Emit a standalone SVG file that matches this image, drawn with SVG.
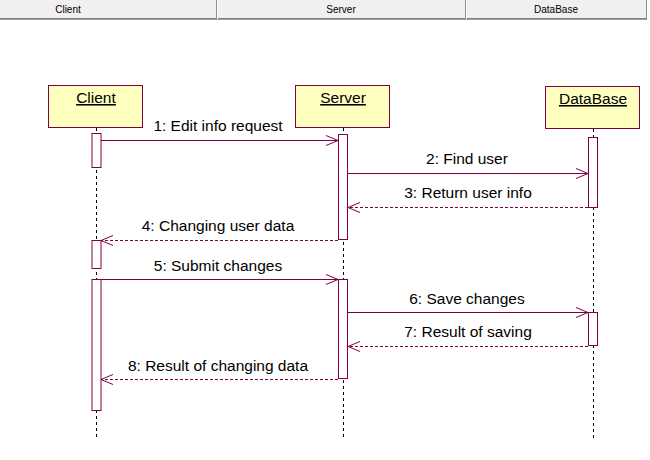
<svg xmlns="http://www.w3.org/2000/svg" width="650" height="460" viewBox="0 0 650 460">
<style>
.hdr{fill:#f0f0f0}
.hdrtxt{font-family:"Liberation Sans",Arial,sans-serif;font-size:10px;fill:#000;text-anchor:middle}
.box{fill:#ffffc0;stroke:#800040;stroke-width:1}
.title{font-family:"Liberation Sans",Arial,sans-serif;font-size:15.5px;fill:#000;text-anchor:middle;text-decoration:underline}
.act{fill:#fff;stroke:#800040;stroke-width:1}
.life{stroke:#000;stroke-width:1;stroke-dasharray:3 3;fill:none}
.msg{stroke:#800040;stroke-width:1;fill:none}
.ret{stroke:#800040;stroke-width:1;fill:none;stroke-dasharray:3 2}
.lbl{font-family:"Liberation Sans",Arial,sans-serif;font-size:15.5px;fill:#000;text-anchor:middle}
</style>
<defs>
<marker id="open" markerWidth="14" markerHeight="12" refX="12" refY="6" orient="auto" markerUnits="userSpaceOnUse">
<path d="M0,1 L12,6 L0,11" fill="none" stroke="#800040" stroke-width="1"/>
</marker>
</defs>
<rect width="650" height="460" fill="#fff"/>
<g id="header">
<rect class="hdr" x="0" y="0" width="647" height="19"/>
<line x1="0" y1="18.5" x2="647" y2="18.5" stroke="#808080" stroke-width="1"/>
<line x1="0" y1="19.5" x2="647" y2="19.5" stroke="#a0a0a0" stroke-width="1"/>
<line x1="216.5" y1="0" x2="216.5" y2="19" stroke="#909090"/>
<line x1="217.5" y1="0" x2="217.5" y2="19" stroke="#fff"/>
<line x1="465.5" y1="0" x2="465.5" y2="19" stroke="#909090"/>
<line x1="466.5" y1="0" x2="466.5" y2="19" stroke="#fff"/>
<line x1="646.5" y1="0" x2="646.5" y2="20" stroke="#909090"/>
<text class="hdrtxt" x="68" y="13">Client</text>
<text class="hdrtxt" x="341" y="13">Server</text>
<text class="hdrtxt" x="556" y="13">DataBase</text>
</g>
<g id="client">
<rect class="box" x="48.5" y="85.5" width="94" height="42"/>
<text class="title" x="96" y="103">Client</text>
<line class="life" x1="96.5" y1="128" x2="96.5" y2="438"/>
<rect class="act" x="92" y="133.5" width="9" height="34"/>
<rect class="act" x="92" y="240.5" width="9" height="28"/>
<rect class="act" x="92" y="279.5" width="9" height="131"/>
</g>
<g id="server">
<rect class="box" x="295.5" y="85.5" width="94" height="42"/>
<text class="title" x="343" y="103">Server</text>
<line class="life" x1="343.5" y1="128" x2="343.5" y2="438"/>
<rect class="act" x="338.5" y="134.5" width="9" height="105"/>
<rect class="act" x="338.5" y="279.5" width="9" height="99"/>
</g>
<g id="database">
<rect class="box" x="545.5" y="86.5" width="94" height="42"/>
<text class="title" x="593" y="104">DataBase</text>
<line class="life" x1="593.5" y1="129" x2="593.5" y2="438"/>
<rect class="act" x="588.5" y="137.5" width="9" height="70"/>
<rect class="act" x="588.5" y="312.5" width="9" height="33"/>
</g>
<g id="connectors">
<line class="msg" x1="101" y1="140.5" x2="338" y2="140.5" marker-end="url(#open)"/>
<text class="lbl" x="218" y="131">1: Edit info request</text>
<line class="msg" x1="348" y1="173.5" x2="588" y2="173.5" marker-end="url(#open)"/>
<text class="lbl" x="467" y="164">2: Find user</text>
<line class="ret" x1="588" y1="207.5" x2="348" y2="207.5" marker-end="url(#open)"/>
<text class="lbl" x="468" y="198">3: Return user info</text>
<line class="ret" x1="338" y1="240.5" x2="101" y2="240.5" marker-end="url(#open)"/>
<text class="lbl" x="218" y="231">4: Changing user data</text>
<line class="msg" x1="101" y1="279.5" x2="338" y2="279.5" marker-end="url(#open)"/>
<text class="lbl" x="218" y="271">5: Submit changes</text>
<line class="msg" x1="348" y1="312.5" x2="588" y2="312.5" marker-end="url(#open)"/>
<text class="lbl" x="467" y="304">6: Save changes</text>
<line class="ret" x1="588" y1="346.5" x2="348" y2="346.5" marker-end="url(#open)"/>
<text class="lbl" x="468" y="337">7: Result of saving</text>
<line class="ret" x1="338" y1="379.5" x2="101" y2="379.5" marker-end="url(#open)"/>
<text class="lbl" x="218" y="371">8: Result of changing data</text>
</g>
</svg>
